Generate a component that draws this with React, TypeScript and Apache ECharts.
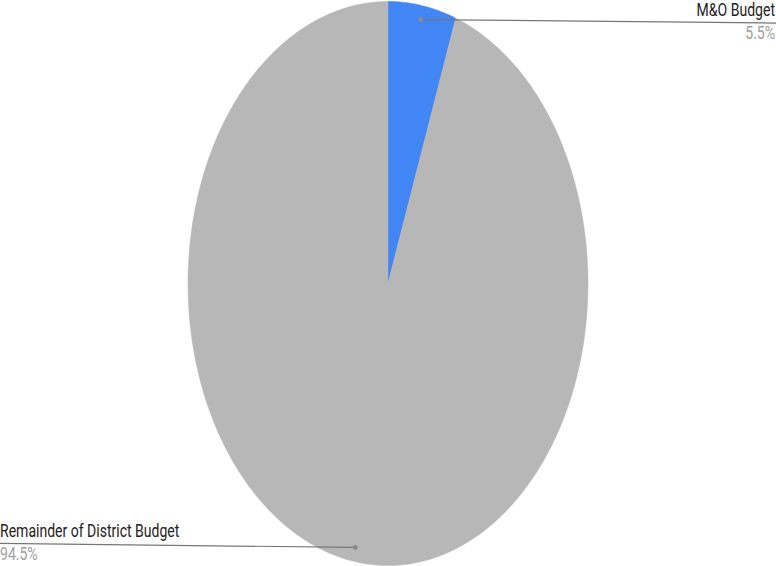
import React, { useEffect, useRef } from "react";
import * as echarts from "echarts";

const categories = ["M&O Budget", "Remainder of District Budget"];
const values = [5.5, 94.5];
const percentLabels = ["5.5%", "94.5%"];
const colors = ["#4285F4", "#B7B7B7"];

export default function App() {
  const ref = useRef<HTMLDivElement>(null);
  useEffect(() => {
    document.body.style.margin = "0";
    const chart = echarts.init(ref.current!, null, { renderer: "svg" });
    const total = values.reduce((a, b) => a + b, 0);
    const cx = 388, cy = 283.5, rx = 200, ry = 282;
    const W = 776;
    const pt = (t: number, k: number) => [cx + rx * k * Math.sin(t), cy - ry * k * Math.cos(t)];
    const renderSlice = (params: any, api: any) => {
      const idx = params.dataIndex;
      const before = values.slice(0, idx).reduce((a, b) => a + b, 0);
      const v = api.value(1) as number;
      const a0 = (before / total) * Math.PI * 2;
      const a1 = ((before + v) / total) * Math.PI * 2;
      const pts: number[][] = [[cx, cy]];
      const n = Math.max(4, Math.ceil((a1 - a0) / 0.01));
      for (let i = 0; i <= n; i++) pts.push(pt(a0 + ((a1 - a0) * i) / n, 1));
      return {
        type: "polygon",
        shape: { points: pts },
        style: { fill: colors[idx], stroke: colors[idx], lineWidth: 0.5 },
      };
    };
    const renderLabel = (params: any, api: any) => {
      const idx = params.dataIndex;
      const before = values.slice(0, idx).reduce((a, b) => a + b, 0);
      const v = api.value(1) as number;
      const mid = ((before + v / 2) / total) * Math.PI * 2;
      const d = pt(mid, 0.95);
      const right = Math.sin(mid) >= 0;
      const endX = right ? W : 0;
      const endY = right ? d[1] + 3.5 : d[1] - 4;
      const tx = right ? W - 1 : 0;
      const sx = 0.78;
      return {
        type: "group",
        children: [
          {
            type: "polyline",
            shape: { points: [d, [endX, endY]] },
            style: { stroke: "#757575", lineWidth: 1.2, fill: "none" },
            z2: 10,
          },
          {
            type: "circle",
            shape: { cx: d[0], cy: d[1], r: 2.5 },
            style: { fill: "#8a8a8a" },
            z2: 11,
          },
          {
            type: "text",
            x: tx,
            y: endY - 4,
            scaleX: sx,
            style: {
              text: categories[idx],
              font: "18px Roboto",
              fill: "#222222",
              align: right ? "right" : "left",
              verticalAlign: "bottom",
            },
            z2: 11,
          },
          {
            type: "text",
            x: tx,
            y: endY + 1,
            scaleX: sx,
            style: {
              text: percentLabels[idx],
              font: "18px Roboto",
              fill: "#9e9e9e",
              align: right ? "right" : "left",
              verticalAlign: "top",
            },
            z2: 11,
          },
        ],
      };
    };
    const data = categories.map((c, i) => [c, values[i]]);
    chart.setOption({
      animation: false,
      series: [
        { type: "custom", coordinateSystem: "none", renderItem: renderSlice, data, z: 1 },
        { type: "custom", coordinateSystem: "none", renderItem: renderLabel, data, z: 2 },
      ],
    });
    return () => chart.dispose();
  }, []);
  return <div ref={ref} style={{ width: 776, height: 566 }} />;
}
